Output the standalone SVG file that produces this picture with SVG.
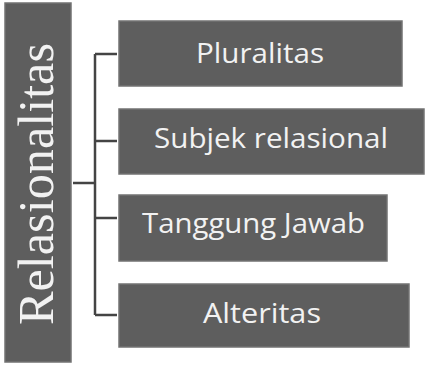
<svg xmlns="http://www.w3.org/2000/svg" width="425" height="368" viewBox="0 0 425 368">
<style>
.box{fill:#5e5e5e;stroke:#737373;stroke-width:1.5}
.lbl{font-family:"Open Sans","Liberation Sans",Arial,sans-serif;font-size:27px;fill:#f2f2f2;text-anchor:middle}
.root{font-family:"Liberation Serif","Times New Roman",serif;font-size:50px;fill:#f2f2f2;text-anchor:middle}
.con{stroke:#444;stroke-width:2.5;fill:none}
</style>
<rect width="425" height="368" fill="#ffffff"/>
<g id="root">
<rect class="box" x="5" y="3" width="66" height="359"/>
<text class="root" transform="translate(53,184) rotate(-90)" textLength="282" lengthAdjust="spacingAndGlyphs">Relasionalitas</text>
</g>
<g id="connectors">
<path class="con" d="M73,183 H95 M95,54 V315 M95,54 H117 M95,141 H117 M95,218 H117 M95,315 H117"/>
</g>
<g id="n1">
<rect class="box" x="119" y="21" width="283" height="65"/>
<text class="lbl" x="260" y="63" textLength="128" lengthAdjust="spacingAndGlyphs">Pluralitas</text>
</g>
<g id="n2">
<rect class="box" x="119" y="109" width="305" height="65"/>
<text class="lbl" x="271" y="148" textLength="234" lengthAdjust="spacingAndGlyphs">Subjek relasional</text>
</g>
<g id="n3">
<rect class="box" x="119" y="195" width="268" height="66"/>
<text class="lbl" x="253.5" y="233" textLength="223" lengthAdjust="spacingAndGlyphs">Tanggung Jawab</text>
</g>
<g id="n4">
<rect class="box" x="119" y="284" width="290" height="63"/>
<text class="lbl" x="262" y="323" textLength="118" lengthAdjust="spacingAndGlyphs">Alteritas</text>
</g>
</svg>
